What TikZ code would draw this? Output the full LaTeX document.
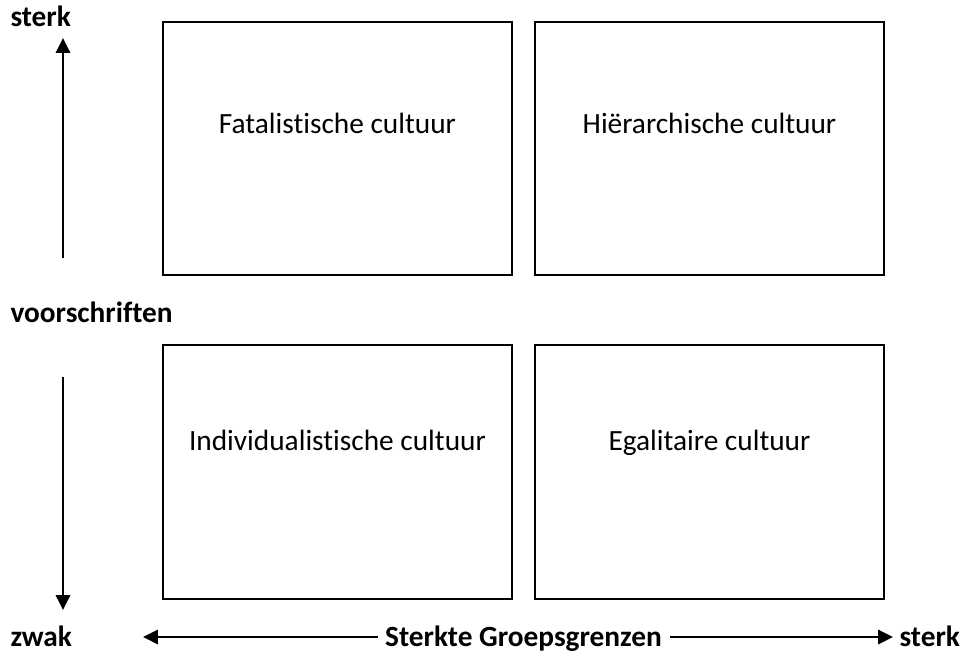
\documentclass[tikz,border=0pt]{standalone}
\usepackage{fontspec}
\setmainfont{Carlito}[Ligatures=NoCommon]
\usepackage{tikz}
\usetikzlibrary{
  arrows.meta,
  positioning,
  calc
}

\begin{document}
\begin{tikzpicture}[x=0.375pt, y=-0.375pt, font=\fontsize{11pt}{13pt}\selectfont,
            cellbox/.style={rectangle, draw=black, line width=0.75pt, minimum width=130.9pt, minimum height=94.9pt, inner sep=0pt},
            celltext/.style={inner sep=0pt, text height=7pt, text depth=2pt, anchor=center},
            axislabel/.style={font=\fontsize{11pt}{13pt}\selectfont\bfseries, inner sep=0pt, text height=7pt, text depth=2pt},
            axisarrow/.style={line width=0.75pt, -{Triangle[length=5.6pt, width=5.4pt]}}]
            \useasboundingbox (0,0) rectangle (965,656);
            % the four cells
            \node [cellbox] (fat) at (337.5,148.5) {};
            \node [cellbox] (hie) at (709.5,148.5) {};
            \node [cellbox] (ind) at (337.5,472) {};
            \node [cellbox] (ega) at (709.5,472) {};
            \node [celltext] (fatt) at (337.5,127) {Fatalistische cultuur};
            \node [celltext] (hiet) at (709.5,127) {Hiërarchische cultuur};
            \node [celltext] (indt) at (337.5,444) {Individualistische cultuur};
            \node [celltext] (egat) at (709.5,444) {Egalitaire cultuur};
            % axis labels
            \node [axislabel, anchor=west] (sterkv) at (10,20) {sterk};
            \node [axislabel, anchor=west] (voor) at (10,316) {voorschriften};
            \node [axislabel, anchor=west] (zwak) at (10,640) {zwak};
            \node [axislabel] (groep) at (523.5,640) {Sterkte Groepsgrenzen};
            \node [axislabel, anchor=west] (sterkh) at (899,640) {sterk};
            % arrows
            \coordinate (vtop) at (63,258);
            \coordinate (vbot) at (63,377);
            \draw [axisarrow] (vtop) -- (63,38);
            \draw [axisarrow] (vbot) -- (63,610);
            \draw [axisarrow] ([xshift=-7*0.375pt]groep.west |- 0,637) -- (143,637);
            \draw [axisarrow] ([xshift=8*0.375pt]groep.east |- 0,637) -- (893,637);
        \end{tikzpicture}
\end{document}
